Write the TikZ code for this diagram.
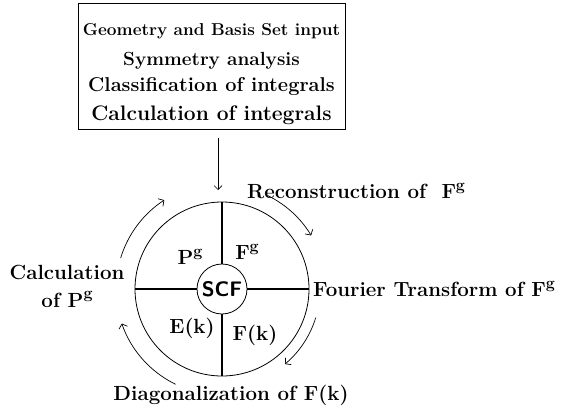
\documentclass[tikz,border=0pt]{standalone}
\usepackage{amsmath}
\usetikzlibrary{calc,arrows.meta}
\newcommand{\gsup}{\raisebox{0.42em}{\fontsize{16}{16}\selectfont g}}

\begin{document}
\begin{tikzpicture}[x=1pt,y=1pt,
  lbl/.style={font=\fontsize{20.5}{28}\selectfont\bfseries,inner sep=0pt},
  cyc/.style={line width=0.7pt,-{Straight Barb[length=4pt,width=9pt]}},
  part/.style={line width=1.2pt}]

\useasboundingbox (0,0) rectangle (561,413);

\def\ringrad{87};
\def\scfrad{25};
\def\thinline{0.8pt};

\node [draw,line width=\thinline,minimum width=267,minimum height=126,
       inner sep=0pt,align=center,font=\bfseries] (input) at (211.5,347)
  {\fontsize{17.2}{29}\selectfont\rule{0pt}{28pt}Geometry and Basis Set input\\[13pt]
   \fontsize{19}{29}\selectfont Symmetry analysis\\[7pt]
   \fontsize{20}{29}\selectfont Classification of integrals\\[9pt]
   \fontsize{21}{29}\selectfont Calculation of integrals};

\coordinate (arrtop) at (218,275);
\coordinate (arrtip) at (218,223);
\draw [line width=0.7pt,-{Straight Barb[length=4pt,width=8pt]}] (arrtop) -- (arrtip);

\node [draw,circle,line width=\thinline,minimum size=2*\ringrad,inner sep=0pt] (ring) at (222,124) {};
\node [draw,circle,line width=\thinline,minimum size=2*\scfrad,inner sep=0pt,
       font=\fontsize{21}{24}\selectfont\sffamily\bfseries] (scf) at (ring.center) {SCF};

\draw [part] (ring.north) -- (scf.north);
\draw [part] (ring.south) -- (scf.south);
\draw [part] (ring.east) -- (scf.east);
\draw [part] (ring.west) -- (scf.west);

\node [lbl] (pg) at (190,156) {P\gsup};
\node [lbl] (fg) at (247,161) {F\gsup};
\node [lbl] (ek) at (192,85) {E(k)};
\node [lbl] (fk) at (255,78) {F(k)};

\node [lbl,anchor=west] (recon) at (247,222) {Reconstruction of \ F\gsup};
\node [lbl,anchor=west] (fourier) at (313,124) {Fourier Transform of F\gsup};
\node [lbl] (diag) at (231,18) {Diagonalization of F(k)};
\node [lbl,align=center] (calcp) at (67,127) {Calculation\\of P\gsup};

\draw [cyc] ($(ring.center)+(64:104)$) arc [start angle=64,end angle=31,radius=104];
\draw [cyc] ($(ring.center)+(-17:98)$) arc [start angle=-17,end angle=-50,radius=98];
\draw [cyc] ($(ring.center)+(244:106)$) arc [start angle=244,end angle=199,radius=106];
\draw [cyc] ($(ring.center)+(163:106)$) arc [start angle=163,end angle=123,radius=106];

\end{tikzpicture}
\end{document}
